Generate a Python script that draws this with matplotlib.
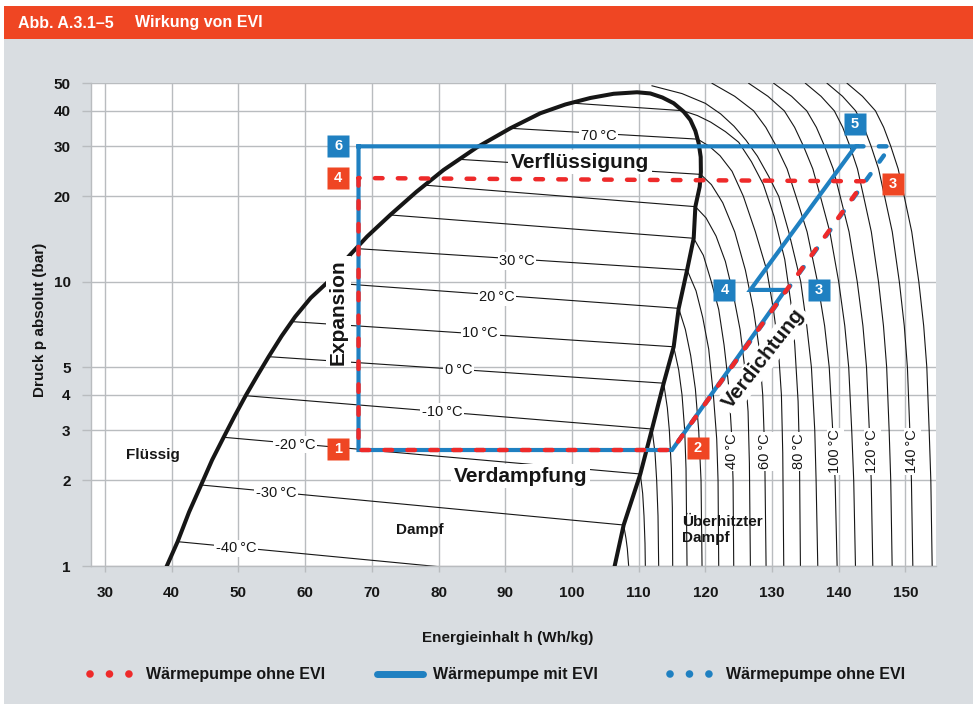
import numpy as np
import matplotlib.pyplot as plt
from matplotlib.lines import Line2D
from matplotlib.patches import Rectangle
from matplotlib.ticker import FixedLocator, FixedFormatter, NullLocator

plt.rcParams['font.family'] = ['Liberation Sans', 'DejaVu Sans']
plt.rcParams['lines.scale_dashes'] = False

RED = '#ee2a2a'
RED_BOX = '#ef4623'
BLUE = '#1f80c1'
GRID = '#b9bcbf'
PANEL = '#d9dde1'
INK = '#161616'

# saturation dome (liquid side bottom -> top -> vapour side bottom)
dome_h = [39.26, 40.88, 42.6, 44.4, 46.05, 47.78, 49.43, 51.08, 52.8, 54.53, 56.48,
          58.5, 60.83, 63.3, 66.26, 69.3, 72.75, 76.65, 80.75, 85.76, 90.75, 95.25,
          99.0, 102.75, 106.25, 109.76,
          111.75, 113.55, 115.25, 116.75, 117.75, 118.5, 119.0, 119.3, 119.33, 119.15,
          118.5, 118.25, 117.26, 116.0, 115.25, 113.75, 112.0, 110.25, 107.75, 106.4]
dome_p = [1.0, 1.218, 1.549, 1.928, 2.361, 2.838, 3.373, 3.976, 4.665, 5.455, 6.45,
          7.54, 8.78, 9.94, 12.11, 14.45, 17.2, 20.72, 24.77, 29.77, 34.72, 39.22,
          42.11, 44.39, 45.93, 46.5,
          46.05, 44.57, 42.54, 39.72, 37.15, 33.98, 30.75, 27.52, 24.37, 21.63,
          18.4, 14.24, 11.01, 8.07, 5.91, 4.40, 3.035, 2.108, 1.394, 1.0]

# isotherms in the wet region (liquid point -> vapour point)
wet_temps = [-40, -30, -20, -10, 0, 10, 20, 30, 40, 50, 60, 70, 80]
wet_h_liq = [40.88, 44.4, 47.78, 51.08, 54.53, 57.9, 63.3, 67.65, 72.75, 77.95, 83.1, 90.75, 100.5]
wet_p_liq = [1.218, 1.928, 2.838, 3.976, 5.455, 7.25, 9.94, 13.1, 17.2, 21.9, 27.0, 34.72, 42.5]
wet_h_vap = [105.8, 107.75, 110.25, 112.0, 113.75, 115.25, 116.0, 117.26, 118.25, 118.5, 119.3, 118.85, 116.6]
wet_p_vap = [0.87, 1.394, 2.108, 3.035, 4.40, 5.91, 8.07, 11.01, 14.24, 18.4, 23.9, 31.8, 40.05]

# isotherms in the superheated region
sh_h = {
    -30: [107.75, 108.1, 108.3, 108.5],
    -20: [110.25, 110.6, 110.8, 110.95, 111.0],
    -10: [112.0, 112.45, 112.7, 112.9, 113.0],
    0: [113.75, 114.3, 114.6, 114.9, 115.05, 115.1],
    10: [115.25, 116.0, 116.5, 116.9, 117.1, 117.25],
    20: [116.0, 117.0, 117.8, 118.5, 119.0, 119.35, 119.5],
    30: [117.26, 118.6, 119.6, 120.5, 121.2, 121.7, 121.9, 122.0],
    40: [118.25, 119.7, 120.9, 122.0, 122.8, 123.5, 123.9, 124.15, 124.25],
    50: [118.5, 120.1, 121.6, 123.0, 124.2, 125.2, 125.9, 126.4, 126.6, 126.75],
    60: [119.3, 120.9, 122.6, 124.4, 126.0, 127.2, 128.0, 128.6, 128.9, 129.1],
    70: [118.85, 120.6, 122.2, 124.0, 125.7, 127.5, 129.2, 130.2, 130.9, 131.4, 131.6, 131.75],
    80: [116.6, 118.8, 120.8, 123.0, 125.0, 126.9, 128.7, 130.3, 131.9, 132.8, 133.4, 133.9,
         134.1, 134.25],
    90: [112.0, 116.5, 120.0, 122.3, 124.3, 126.1, 127.8, 129.5, 131.0, 132.5, 134.3, 135.2,
         135.9, 136.4, 136.6, 136.85],
    100: [121.0, 124.4, 127.24, 129.06, 130.64, 132.25, 133.58, 135.25, 136.81, 137.88,
          138.57, 139.09, 139.45, 139.75],
    110: [126.5, 129.38, 131.83, 133.38, 134.72, 136.1, 137.24, 138.66, 139.99, 140.9,
          141.49, 141.94, 142.24, 142.5],
    120: [130.25, 132.92, 135.2, 136.64, 137.88, 139.16, 140.21, 141.54, 142.77, 143.62,
          144.16, 144.58, 144.86, 145.1],
    130: [135.0, 137.34, 139.33, 140.59, 141.68, 142.8, 143.72, 144.88, 145.96, 146.7,
          147.18, 147.55, 147.79, 148.0],
    140: [138.25, 140.56, 142.53, 143.78, 144.85, 145.96, 146.87, 148.02, 149.08, 149.82,
          150.29, 150.65, 150.89, 151.1],
    150: [141.25, 143.55, 145.5, 146.73, 147.8, 148.9, 149.81, 150.94, 152.0, 152.73,
          153.2, 153.55, 153.8, 154.0],
}
sh_levels = [50, 45, 40, 35, 30, 25, 20, 15, 10, 7, 5, 3, 2, 1]
sh_p = {
    -30: [1.394, 1.25, 1.15, 1.0],
    -20: [2.108, 1.8, 1.5, 1.2, 1.0],
    -10: [3.035, 2.5, 2.0, 1.5, 1.0],
    0: [4.40, 3.6, 3.0, 2.2, 1.6, 1.0],
    10: [5.91, 4.9, 4.0, 3.0, 2.2, 1.0],
    20: [8.07, 6.8, 5.5, 4.2, 3.0, 2.0, 1.0],
    30: [11.01, 9.3, 7.5, 5.8, 4.0, 2.8, 2.0, 1.0],
    40: [14.24, 12.4, 10.0, 8.0, 6.0, 4.3, 3.0, 2.0, 1.0],
    50: [18.4, 16.8, 14.5, 11.8, 9.0, 6.8, 5.0, 3.5, 2.3, 1.0],
    60: [23.9, 22.0, 19.0, 15.0, 11.0, 8.0, 6.0, 4.0, 2.5, 1.0],
    70: [31.8, 30.0, 27.8, 24.5, 20.0, 15.0, 11.0, 8.0, 6.0, 4.0, 2.5, 1.0],
    80: [40.05, 38.5, 36.5, 33.8, 31.0, 26.5, 22.0, 17.0, 12.0, 8.5, 6.0, 3.8, 2.5, 1.0],
    90: [49.0, 46.0, 42.5, 39.0, 35.3, 31.5, 27.7, 23.5, 20.0, 15.0, 10.0, 7.0, 5.0, 3.0,
         2.0, 1.0],
    100: sh_levels, 110: sh_levels, 120: sh_levels,
    130: sh_levels, 140: sh_levels, 150: sh_levels,
}

# isotherm labels
iso_labels = ['70\u2009°C', '30\u2009°C', '20\u2009°C', '10\u2009°C', '0\u2009°C',
              '-10\u2009°C', '-20\u2009°C', '-30\u2009°C', '-40\u2009°C']
iso_label_h = [104.0, 91.75, 88.75, 86.25, 83.0, 80.5, 58.5, 55.65, 49.65]
iso_label_p = [32.6, 11.85, 8.83, 6.59, 4.9, 3.49, 2.67, 1.8, 1.154]
sh_labels = ['40\u2009°C', '60\u2009°C', '80\u2009°C', '100\u2009°C', '120\u2009°C', '140\u2009°C']
sh_label_h = [124.0, 129.0, 134.0, 139.5, 145.0, 151.0]
sh_label_p = 2.53

# cycles
evi_h = [68.0, 68.0, 115.0, 132.0, 126.75, 142.5, 68.0]
evi_p = [30.0, 2.56, 2.56, 9.37, 9.37, 30.0, 30.0]
red_h = [68.0, 68.0, 115.0, 143.85, 68.0]
red_p = [23.2, 2.56, 2.56, 22.6, 23.2]
blue_dash_h = [115.0, 147.75, 142.5]
blue_dash_p = [2.56, 30.0, 30.0]

# numbered state points
box_text = ['6', '4', '1', '2', '4', '3', '5', '3']
box_h = [64.95, 64.95, 64.95, 118.9, 122.85, 137.0, 142.4, 148.15]
box_p = [30.1, 23.2, 2.58, 2.6, 9.37, 9.37, 35.96, 22.1]
box_color = [BLUE, RED_BOX, RED_BOX, RED_BOX, BLUE, BLUE, BLUE, RED_BOX]

x_ticks = list(range(30, 151, 10))
y_ticks = [1, 2, 3, 4, 5, 10, 20, 30, 40, 50]

fig = plt.figure(figsize=(9.73, 7.04), dpi=100, facecolor='white')
fig.patches.append(Rectangle((4 / 973, 0), 1, (704 - 38.5) / 704, transform=fig.transFigure,
                             facecolor=PANEL, edgecolor='none', zorder=-2))
fig.patches.append(Rectangle((4 / 973, (704 - 38.5) / 704), 1, 33 / 704, transform=fig.transFigure,
                             facecolor=RED_BOX, edgecolor='none', zorder=-2))
fig.text(18 / 973, 1 - 23 / 704, 'Abb. A.3.1–5', color='white', fontsize=11.5,
         fontweight='bold', va='center', ha='left')
fig.text(135 / 973, 1 - 23 / 704, 'Wirkung von EVI', color='white', fontsize=11.5,
         fontweight='bold', va='center', ha='left')

ax = fig.add_axes([90.7 / 973, 1 - 566 / 704, 845.8 / 973, 482.7 / 704])
ax.set_zorder(1)
ax.set_facecolor('white')
ax.set_yscale('log')
ax.set_xlim(27.85, 154.65)
ax.set_ylim(1, 50)

ax.xaxis.set_major_locator(FixedLocator(x_ticks))
ax.yaxis.set_major_locator(FixedLocator(y_ticks))
ax.yaxis.set_major_formatter(FixedFormatter([str(v) for v in y_ticks]))
ax.yaxis.set_minor_locator(NullLocator())
ax.grid(True, color=GRID, lw=1.0)
ax.set_axisbelow(True)
for s in ['top', 'right']:
    ax.spines[s].set_visible(False)
for s in ['left', 'bottom']:
    ax.spines[s].set_color(GRID)
    ax.spines[s].set_linewidth(1.0)
ax.tick_params(axis='y', length=6.5, width=1.0, color=GRID, pad=8, labelsize=11, labelcolor=INK)
ax.tick_params(axis='x', length=4.3, width=1.0, color=GRID, pad=10, labelsize=11, labelcolor=INK)
for lab in ax.get_xticklabels() + ax.get_yticklabels():
    lab.set_fontweight('bold')

ax.set_xlabel('Energieinhalt h (Wh/kg)', fontsize=11, fontweight='bold', color=INK)
ax.xaxis.set_label_coords(0.493, -0.134)
ax.set_ylabel('Druck p absolut (bar)', fontsize=11, fontweight='bold', color=INK)
ax.yaxis.set_label_coords(-0.052, 0.51)

# isotherms
for i in range(len(wet_temps)):
    ax.plot([wet_h_liq[i], wet_h_vap[i]], [wet_p_liq[i], wet_p_vap[i]], color=INK, lw=0.8, zorder=2)
for t in sh_h:
    ax.plot(sh_h[t], sh_p[t], color=INK, lw=0.8, zorder=2, solid_joinstyle='round')

# dome
ax.plot(dome_h, dome_p, color=INK, lw=2.9, zorder=3, solid_joinstyle='round')

# labels with white background
lab_box = dict(facecolor='white', edgecolor='none', pad=1.2)
for txt, h, p in zip(iso_labels, iso_label_h, iso_label_p):
    ax.text(h, p, txt, fontsize=10.5, color=INK, ha='center', va='center', bbox=lab_box, zorder=4)
for txt, h in zip(sh_labels, sh_label_h):
    ax.text(h, sh_label_p, txt, fontsize=10.5, color=INK, ha='center', va='center',
            rotation=90, bbox=lab_box, zorder=4)

big_box = dict(facecolor='white', edgecolor='none', pad=2)
ax.text(101.25, 26.4, 'Verflüssigung', fontsize=15, fontweight='bold', color=INK,
        ha='center', va='center', bbox=big_box, zorder=4)
ax.text(92.25, 2.07, 'Verdampfung', fontsize=15, fontweight='bold', color=INK,
        ha='center', va='center', bbox=big_box, zorder=4)
ax.text(65.0, 7.84, 'Expansion', fontsize=15, fontweight='bold', color=INK,
        ha='center', va='center', rotation=90, bbox=big_box, zorder=4)
ax.text(128.75, 5.35, 'Verdichtung', fontsize=15, fontweight='bold', color=INK,
        ha='center', va='center', rotation=52, rotation_mode='anchor', bbox=big_box, zorder=4)

ax.text(37.1, 2.46, 'Flüssig', fontsize=11, fontweight='bold', color=INK, ha='center', va='center')
ax.text(77.25, 1.34, 'Dampf', fontsize=11, fontweight='bold', color=INK, ha='center', va='center')
ax.text(116.5, 1.34, 'Überhitzter\nDampf', fontsize=11, fontweight='bold', color=INK,
        ha='left', va='center', zorder=4)

# cycles
ax.plot(evi_h, evi_p, color=BLUE, lw=3.0, zorder=5, solid_joinstyle='miter')
ax.plot(blue_dash_h, blue_dash_p, color=BLUE, lw=3.2, zorder=6,
        linestyle=(8.25, (5.5, 11.0)), dash_capstyle='round')
ax.plot(red_h, red_p, color=RED, lw=3.2, zorder=7,
        linestyle=(0, (5.5, 11.0)), dash_capstyle='round')

# numbered boxes
for txt, h, p, c in zip(box_text, box_h, box_p, box_color):
    ax.plot(h, p, marker='s', ms=15.8, mfc=c, mec='none', zorder=8)
    ax.text(h, p, txt, color='white', fontsize=10.5, fontweight='bold',
            ha='center', va='center', zorder=9)

# legend
leg_y = 1 - 675 / 704
handles = [
    Line2D([], [], color=RED, lw=5.5, linestyle=(0, (0.01, 14)), dash_capstyle='round'),
    Line2D([], [], color=BLUE, lw=5.0, solid_capstyle='round'),
    Line2D([], [], color=BLUE, lw=5.5, linestyle=(0, (0.01, 14)), dash_capstyle='round'),
]
names = ['Wärmepumpe ohne EVI', 'Wärmepumpe mit EVI', 'Wärmepumpe ohne EVI']
leg_x = [90 / 973, 377 / 973, 670 / 973]
for hd, nm, lx in zip(handles, names, leg_x):
    lg = fig.legend([hd], [nm], loc='center left', bbox_to_anchor=(lx, leg_y),
                    frameon=False, borderpad=0, borderaxespad=0, handlelength=2.9,
                    handletextpad=0.6, prop=dict(weight='bold', size=11.5))
    for t in lg.get_texts():
        t.set_color(INK)

fig.savefig('out.png', dpi=100, facecolor=fig.get_facecolor())
